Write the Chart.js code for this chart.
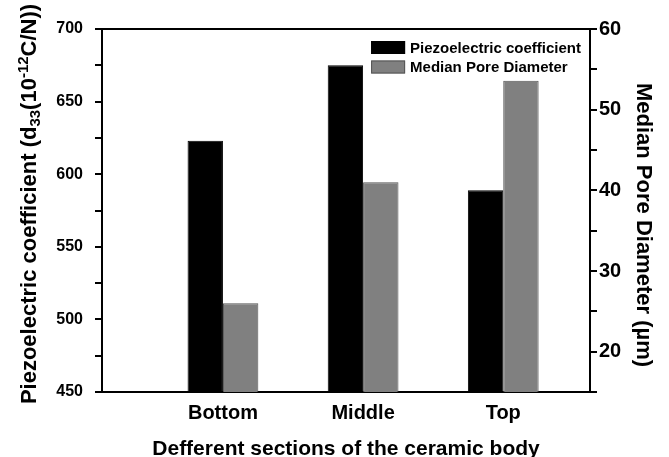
<!DOCTYPE html>
<html>
<head>
<meta charset="utf-8">
<script src="https://cdn.jsdelivr.net/npm/chart.js@4.4.1/dist/chart.umd.min.js"></script>
<style>
  html, body { margin: 0; padding: 0; background: #fff; }
  #wrap { width: 669px; height: 457px; }
</style>
</head>
<body>
<div id="wrap"><canvas id="chart"></canvas></div>
<script>
// sections of the ceramic body (x axis)
const sections = ['Bottom', 'Middle', 'Top'];
// piezoelectric coefficient d33, 10^-12 C/N (left axis)
const d33 = [623, 675, 589];
// median pore diameter, µm (right axis)
const poreDiameter = [26, 41, 53.6];

// labelled ticks, minor ticks in between are left blank
const leftTicks = [450, 500, 550, 600, 650, 700];
const rightTicks = [20, 30, 40, 50, 60];

const FONT = "'Liberation Sans', Arial, Helvetica, sans-serif";

// draws text made of runs [text, size, shift] one after the other
function drawRuns(ctx, runs) {
    let total = 0;
    runs.forEach(r => {
        ctx.font = 'bold ' + r[1] + 'px ' + FONT;
        total += ctx.measureText(r[0]).width;
    });
    let x = -total / 2;
    runs.forEach(r => {
        ctx.font = 'bold ' + r[1] + 'px ' + FONT;
        ctx.fillText(r[0], x, r[2]);
        x += ctx.measureText(r[0]).width;
    });
}

// top edge of the frame, legend in the top-right corner, both y titles
const framePlugin = {
    id: 'frame',
    afterDraw(chart) {
        const { ctx, chartArea: a } = chart;
        ctx.save();

        ctx.strokeStyle = '#000';
        ctx.lineWidth = 2;
        ctx.beginPath();
        ctx.moveTo(a.left - 1, a.top);
        ctx.lineTo(a.right + 1, a.top);
        ctx.stroke();

        // legend
        const sets = chart.data.datasets;
        const boxW = 34, boxH = 13, rowH = 19.5;
        ctx.font = 'bold 15px ' + FONT;
        const textW = Math.max(...sets.map(d => ctx.measureText(d.label).width));
        const lx = a.right - 9 - textW - 5 - boxW;
        const ly = a.top + 12;
        sets.forEach((d, i) => {
            const y = ly + i * rowH;
            ctx.fillStyle = d.backgroundColor;
            ctx.fillRect(lx, y, boxW, boxH);
            ctx.strokeStyle = d.borderColor;
            ctx.lineWidth = 1;
            ctx.strokeRect(lx + 0.5, y + 0.5, boxW - 1, boxH - 1);
            ctx.fillStyle = '#000';
            ctx.textBaseline = 'middle';
            ctx.textAlign = 'left';
            ctx.fillText(d.label, lx + boxW + 5, y + boxH / 2 + 1);
        });

        ctx.fillStyle = '#000';
        ctx.textBaseline = 'middle';
        ctx.textAlign = 'left';

        // left title, d33 and 10^-12 need sub/superscripts
        ctx.save();
        ctx.translate(30, 204);
        ctx.rotate(-Math.PI / 2);
        drawRuns(ctx, [
            ['Piezoelectric coefficient (d', 22, 0],
            ['33', 15, 6],
            ['(10', 22, 0],
            ['-12', 15, -6],
            ['C/N))', 22, 0]
        ]);
        ctx.restore();

        // right title, reads top to bottom
        ctx.save();
        ctx.translate(643, 225);
        ctx.rotate(Math.PI / 2);
        drawRuns(ctx, [['Median Pore Diameter (\u00b5m)', 22, 0]]);
        ctx.restore();

        ctx.restore();
    }
};

new Chart(document.getElementById('chart'), {
    type: 'bar',
    data: {
        datasets: [{
            label: 'Piezoelectric coefficient',
            data: d33.map((v, i) => ({ x: i + 1, y: v })),
            backgroundColor: '#000000',
            borderColor: '#000000',
            borderWidth: 1,
            yAxisID: 'y'
        }, {
            label: 'Median Pore Diameter',
            data: poreDiameter.map((v, i) => ({ x: i + 1, y: v })),
            backgroundColor: '#808080',
            borderColor: '#555555',
            borderWidth: 1,
            yAxisID: 'y1'
        }]
    },
    options: {
        responsive: true,
        maintainAspectRatio: false,
        animation: false,
        categoryPercentage: 0.505,
        barPercentage: 1,
        layout: { padding: { top: 29 } },
        plugins: {
            legend: { display: false },
            tooltip: { enabled: false }
        },
        scales: {
            x: {
                type: 'linear',
                offset: false,
                min: 0.137,
                max: 3.619,
                afterBuildTicks: scale => {
                    scale.ticks = sections.map((s, i) => ({ value: i + 1 }));
                },
                afterFit: scale => { scale.height = 65; },
                grid: { display: false, drawTicks: false, offset: false },
                border: { display: true, color: '#000', width: 2 },
                ticks: {
                    autoSkip: false,
                    maxRotation: 0,
                    padding: 9,
                    color: '#000',
                    font: { family: FONT, size: 20, weight: 'bold' },
                    callback: v => sections[v - 1]
                },
                title: {
                    display: true,
                    text: 'Defferent sections of the ceramic body',
                    color: '#000',
                    padding: { top: 0, bottom: -2.5 },
                    font: { family: FONT, size: 21, weight: 'bold', lineHeight: 1 }
                }
            },
            y: {
                position: 'left',
                min: 450,
                max: 700,
                afterFit: scale => { scale.width = 102; },
                grid: { drawOnChartArea: false, drawTicks: true, tickLength: 7, color: '#000', lineWidth: 2 },
                border: { display: true, color: '#000', width: 2 },
                ticks: {
                    stepSize: 25,
                    padding: 12,
                    color: '#000',
                    font: { family: FONT, size: 16, weight: 'bold' },
                    callback: v => leftTicks.includes(v) ? v : ''
                }
            },
            y1: {
                position: 'right',
                min: 15,
                max: 60,
                afterFit: scale => { scale.width = 79; },
                grid: { drawOnChartArea: false, drawTicks: true, tickLength: 7, color: '#000', lineWidth: 2 },
                border: { display: true, color: '#000', width: 2 },
                ticks: {
                    stepSize: 5,
                    padding: 2,
                    color: '#000',
                    font: { family: FONT, size: 20, weight: 'bold' },
                    callback: v => rightTicks.includes(v) ? v : ''
                }
            }
        }
    },
    plugins: [framePlugin]
});
</script>
</body>
</html>
